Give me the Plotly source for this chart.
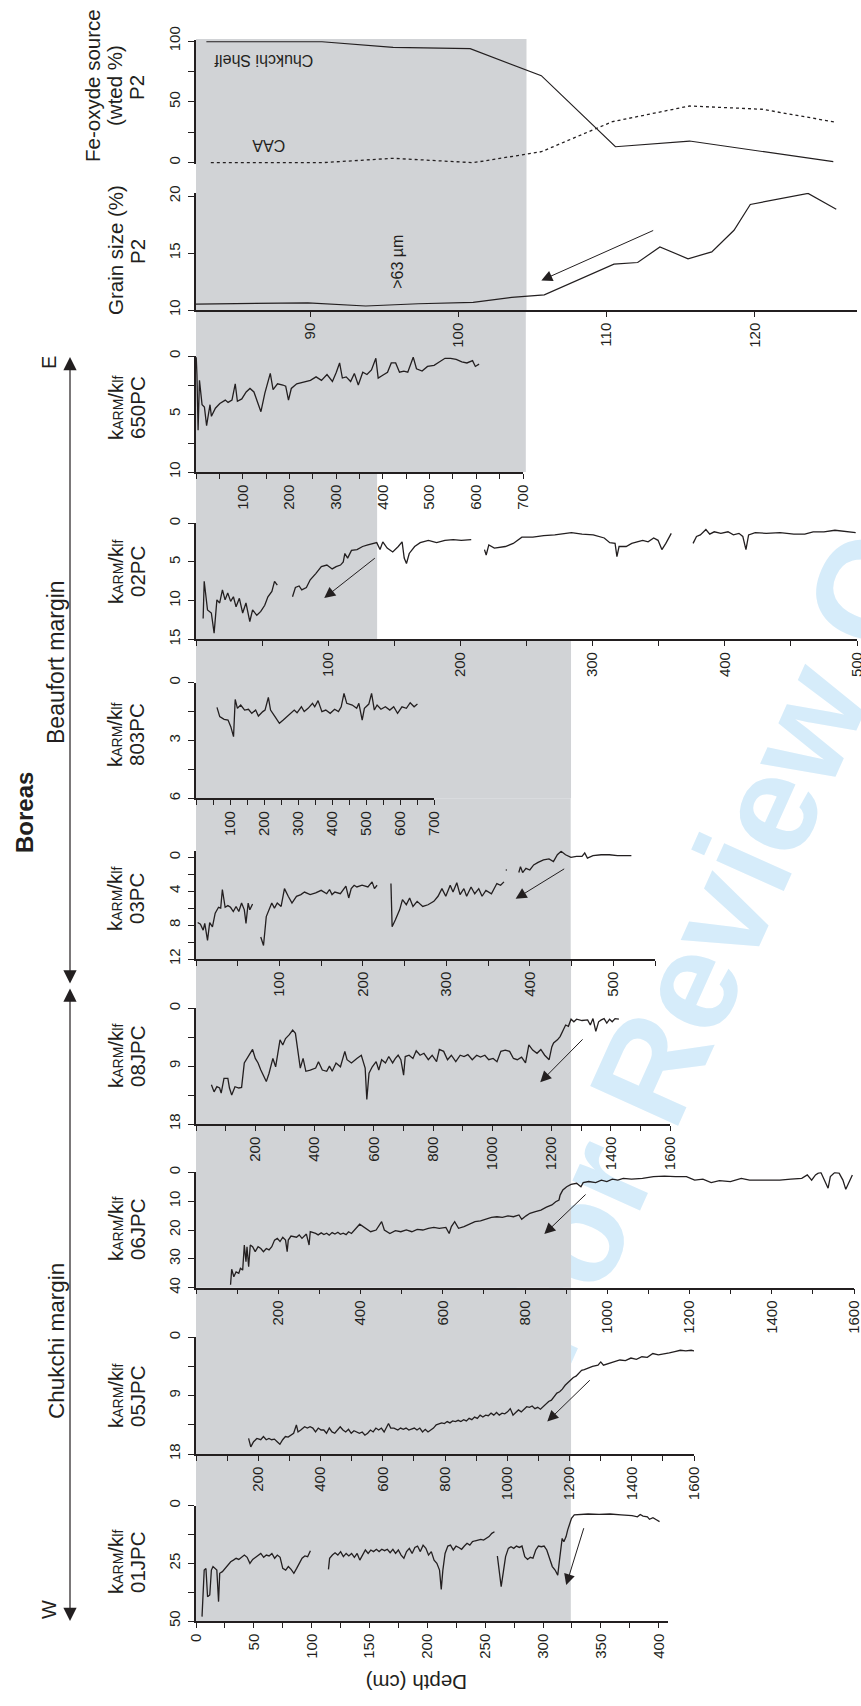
import plotly.graph_objects as go

# ====================== DATA ======================
# Core P2 : Fe-oxyde source (weighted %)
p2_fe_depth = [83.0, 90.8, 95.6, 100.8, 105.6, 110.6, 115.6, 119.7, 125.3]
p2_fe_chukchi_shelf = [99.4, 99.4, 94.8, 93.7, 71.5, 13.1, 17.8, 10.4, 0.8]
p2_caa_depth = [83.3, 90.8, 95.6, 101.0, 105.6, 110.4, 115.6, 120.5, 125.5]
p2_fe_caa = [0.0, 0.0, 3.6, 0.0, 9.0, 33.7, 46.6, 43.9, 33.2]

# Core P2 : grain size >63 um (%)
p2_gs_depth = [82.3, 89.85, 93.75, 97.3, 101.0, 103.6, 105.8, 110.5, 112.1, 113.6,
               115.5, 117.1, 118.6, 119.7, 123.6, 125.5]
p2_gs_sand = [10.52, 10.63, 10.35, 10.55, 10.67, 11.1, 11.33, 14.03, 14.17, 15.54,
              14.5, 15.1, 17.0, 19.27, 20.23, 18.84]

# kARM/klf records (depth cm, ratio); None = gap between sections
pc650_depth = [0.5, 2, 4.5, 7.4, 13, 18, 22.7, 30, 33, 41.5,
               51, 62.7, 68.6, 77, 84, 88.6, 98, 107.4, 115.6, 124,
               131, 139, 147.4, 159, 165, 174.5, 186, 192, 198, 204,
               215.6, 227.4, 245, 257, 268.6, 280.4, 292, 300.4, 307.4, 313.3,
               321.5, 331, 339, 347.4, 357, 366, 375.6, 385, 390, 398,
               410, 418, 427.4, 435.6, 445, 453.3, 465, 472, 484, 495.6,
               509.7, 521.5, 533, 545, 557, 569, 580, 592, 598, 606]
pc650_karm = [0.1, 1.6, 6.4, 2.1, 4.2, 4.4, 6.0, 4.2, 5.2, 4.5,
              4.1, 3.8, 4.0, 3.8, 2.4, 3.9, 3.7, 3.1, 2.8, 3.1,
              3.9, 4.8, 3.2, 1.5, 2.9, 2.4, 2.5, 2.6, 3.8, 2.8,
              2.4, 2.3, 2.1, 1.8, 2.1, 1.6, 2.2, 1.4, 0.6, 1.9,
              1.8, 2.2, 1.5, 2.5, 1.4, 1.6, 1.2, 0.2, 1.9, 1.7,
              1.4, 0.6, 0.6, 1.4, 1.3, 1.4, 0.1, 1.1, 1.3, 0.9,
              0.8, 0.5, 0.2, 0.2, 0.3, 0.5, 0.6, 0.4, 0.9, 0.7]

pc02_depth = [5.4, 6.2, 8.7, 11.6, 13.7, 15.8, 17.9, 20, 22, 24,
              26.2, 28.3, 30.3, 32.8, 35.3, 37.8, 40.7, 42.8, 46, 49,
              52, 54.4, 57.4, 59.4, 61.5, None,
              73, 75.2, 78, 80, 83.5, 86.4, 90.6, 94.8, 99, 103,
              106, 109.3, 111.4, 112.6, 114.7, 117.6, 121.8, 126, 130, 134,
              136.7, 139.2, 141.3, 144.6, 148.8, 153, 155.9, 157.5, 159.2, 161.3,
              165.4, 169.6, 175.8, 182, 188.3, 194.5, 200.7, 208.2, None,
              218.2, 219.5, 221.5, 225.7, 234, 240, 246.5, 254.8, 263, 271.4,
              284, 292, 300.5, 308.8, 313, 317, 318.4, 320, 325.4, 329.6,
              333.7, 337.9, 342, 346.2, 349.5, 352.4, 355.4, 359.5, None,
              376, 378.6, 381.5, 385.7, 388.6, 392, 397, 402.4, 406.5, 410.7,
              413.6, 416, 418, 423, 431.4, 441.8, 452.2, 460.5, 466.8, 475,
              483.3, 493.7, 499]
pc02_karm = [12.3, 7.5, 11.2, 11.6, 14.2, 9.9, 10.3, 8.6, 9.9, 9.0,
             10.1, 9.5, 10.8, 9.7, 11.6, 10.3, 12.7, 11.2, 11.9, 11.4,
             10.6, 9.5, 8.8, 7.5, 8.0, None,
             9.5, 8.3, 8.1, 8.6, 8.3, 7.3, 6.5, 5.6, 5.4, 5.9,
             5.6, 5.4, 5.0, 3.9, 4.5, 3.5, 3.4, 3.0, 2.8, 2.6,
             2.5, 3.4, 2.4, 3.2, 3.7, 3.0, 2.4, 4.5, 5.2, 3.9,
             3.0, 2.5, 2.2, 2.5, 2.2, 2.1, 2.2, 2.1, None,
             3.4, 4.1, 2.8, 3.2, 3.0, 2.6, 1.8, 1.8, 1.6, 1.5,
             1.2, 1.4, 1.5, 1.9, 2.5, 2.6, 4.3, 3.0, 3.0, 2.6,
             2.4, 2.2, 2.4, 1.9, 2.2, 3.4, 2.6, 1.3, None,
             2.6, 1.7, 1.5, 0.8, 1.4, 1.1, 1.3, 1.1, 1.5, 1.3,
             1.7, 3.4, 1.5, 1.2, 1.3, 1.2, 1.4, 1.4, 1.1, 1.1,
             0.9, 1.1, 1.2]

pc803_depth = [61.7, 69.8, 82.8, 94.2, 102.3, 110.4, 115.3, 121.8, 131.6, 143,
               154.3, 164, 175.4, 183.5, 196.5, 203, 212.8, 219.3, 232.3, 245.3,
               256.6, 268, 281, 289, 297.2, 310, 318.3, 329.7, 342.7, 349.2,
               359, 370.3, 381.7, 394.7, 407.7, 419, 427, 435.3, 443.4, 459.6,
               472.6, 479, 488.8, 495.3, 508.3, 516.4, 524.5, 532.6, 544, 557,
               570, 581.4, 592.8, 605.8, 618.8, 630, 641.5, 651.3]
pc803_karm = [1.28, 1.76, 1.9, 1.94, 2.28, 2.8, 0.87, 1.33, 1.16, 1.42,
              1.38, 1.59, 1.42, 1.73, 1.5, 1.42, 0.76, 1.42, 1.76, 2.11,
              1.94, 1.76, 1.59, 1.42, 1.56, 1.25, 1.5, 1.33, 1.07, 1.25,
              0.93, 1.5, 1.42, 1.59, 1.38, 1.5, 1.25, 0.55, 1.07, 1.16,
              1.33, 1.07, 1.94, 1.33, 1.11, 0.55, 1.42, 1.16, 1.38, 1.25,
              1.42, 1.25, 1.59, 1.25, 1.33, 1.04, 1.25, 1.11]

pc03_depth = [2, 5.3, 8.6, 10.5, 13.8, 16.4, 19.7, 23, 27, 29.6,
              31.6, 34.9, 38.2, 41.4, 44.7, 48, 51.3, 54.6, 57.9, 59.9,
              62.5, 64.5, 67.8, None,
              77.6, 80.9, 84.2, 87.5, 90.8, 94, 97.4, 102, 106, 110.5,
              115, 120.4, 125.7, 130, 136.8, 143.4, 150, 156.6, 160, 163,
              166.4, 173, 179.6, 183, 186, 189.5, 192.8, 199, 206, 211,
              213.8, 217, None,
              233.6, 235, 238.8, 244, 247.4, 252, 256, 260, 265, 271.7,
              278, 285, 290, 294.7, 299.3, 304.6, 308, 312.5, 316.4, 321,
              324.3, 329.6, 334, 338.8, 342.8, 347.4, 354, 360.5, 365, 369, None,
              371.2, 372.4, None,
              386.8, 388.8, 391.4, 395.4, 400, 404.6, 409.9, 416.4, 423, 428.3,
              433, 437.5, 442.8, 449.3, 455.9, 462.5, 465.8, 469, 475.7, 485.5,
              495.4, 505, 515, 521.7]
pc03_karm = [7.7, 7.9, 8.6, 7.8, 9.8, 7.7, 8.2, 6.6, 5.9, 6.0,
             3.8, 5.9, 5.7, 5.9, 6.4, 5.8, 6.4, 5.4, 6.2, 7.8,
             5.4, 6.2, 5.5, None,
             9.4, 10.4, 7.0, 6.2, 5.4, 6.0, 5.4, 5.8, 3.7, 4.6,
             5.4, 4.6, 4.4, 4.1, 4.4, 4.2, 3.9, 4.3, 3.8, 4.4,
             4.1, 4.3, 3.4, 4.8, 3.7, 3.3, 3.5, 3.3, 3.5, 2.9,
             3.7, 3.3, None,
             3.1, 8.2, 7.4, 6.2, 5.0, 5.6, 4.8, 5.8, 5.2, 5.8,
             5.6, 5.2, 4.6, 3.7, 4.6, 3.3, 4.1, 3.0, 4.4, 3.7,
             4.6, 3.5, 4.3, 3.7, 4.6, 3.9, 4.3, 3.1, 3.3, 2.9, None,
             1.5, 1.5, None,
             1.8, 1.1, 1.8, 1.3, 1.5, 0.9, 0.6, 0.3, 0.2, 0.5,
             -0.3, -0.7, -0.3, 0.0, -0.1, -0.1, -0.5, 0.1, -0.2, -0.3,
             -0.3, -0.2, -0.2, -0.2]

jpc08_depth = [52, 61, 70.5, 79.7, 85, 94.5, 107.5, 113, 120.5, 131.6,
               144.6, 153.9, 163, 172.4, 181.7, 191, 200.2, 209.5, 218.8, 228,
               237.3, 246.6, 259.5, 268.8, 283.6, 292.9, 302.2, 315, 326.3, 335.6,
               344.8, 352, 361.5, 370.8, 385.6, 404, 413.4, 426.4, 441.2, 450.5,
               459.8, 472.7, 487.6, 502.4, 509.8, 524.7, 543, 558, 571, 576.6,
               584, 595, 608, 617, 626.6, 639.6, 650.7, 663.7, 673, 682.3,
               691.5, 700.8, 706.3, 719.3, 732.3, 743.4, 756.4, 769.4, 784.2, 797.2,
               812, 821.3, 836, 849, 862, 876.9, 891.8, 904.7, 917.7, 932.5,
               947.4, 960.3, 975, 988, 1003, 1016, 1029, 1044, 1058.6, 1071.6,
               1084.5, 1099, 1112.3, 1123.5, 1136.5, 1151, 1164, 1177, 1192, 1201,
               1207, 1220, 1229, 1238, 1247.7, 1257, 1266, 1275.5, 1284.7, 1303,
               1322, 1331, 1340, 1349.6, 1359, 1368, 1377.5, 1386.7, 1396, 1405,
               1414.5, 1427.5]
jpc08_karm = [11.9, 13.0, 12.2, 12.4, 13.2, 10.9, 10.9, 12.4, 13.5, 12.2,
              12.4, 12.3, 8.5, 7.8, 7.1, 6.4, 7.8, 8.5, 9.6, 10.4,
              11.4, 10.1, 7.8, 9.1, 4.9, 5.7, 4.7, 4.1, 3.4, 3.9,
              7.0, 9.3, 7.8, 9.8, 9.6, 9.3, 8.3, 9.6, 9.8, 9.0,
              9.8, 8.5, 9.1, 6.7, 8.0, 8.5, 7.8, 7.3, 9.3, 14.2,
              10.1, 9.1, 8.3, 9.6, 8.0, 8.5, 7.5, 8.5, 7.8, 7.3,
              8.0, 10.4, 7.5, 7.3, 7.8, 6.6, 7.3, 7.0, 8.0, 7.3,
              8.3, 6.4, 6.7, 8.0, 7.3, 8.3, 7.3, 7.5, 7.2, 8.0,
              7.3, 7.6, 7.3, 8.0, 7.8, 8.3, 6.7, 6.5, 6.7, 7.8,
              8.0, 7.6, 8.5, 5.7, 6.5, 7.0, 6.4, 7.3, 8.0, 6.0,
              5.4, 4.9, 4.4, 3.6, 2.6, 2.8, 1.7, 2.1, 1.7, 1.9,
              1.8, 2.6, 1.6, 3.6, 2.1, 1.8, 1.6, 2.3, 1.7, 2.1,
              1.6, 1.7]

jpc06_depth = [84, 86.8, 92, 97.5, 104, 108, 113.5, 117.5, 121.5, 124,
               128, 132, 137.6, 144, 151, 157.6, 164, 171, 177.6, 184.3,
               191, 197.6, 204.3, 211, 217.7, 221.7, 224.4, 231, 244.4, 251,
               257.7, 268.4, 275, 277.8, 291, 297, 304.5, 311, 317.8, 324,
               331, 337.9, 345, 351, 358, 365, 371, 378, 398, 411.3,
               424.7, 438, 451.4, 458, 471.4, 484.8, 498, 511.5, 524.8, 538,
               551.6, 565, 578.3, 591.6, 607.6, 615.6, 621, 629, 638.4, 651.7,
               665, 678.4, 691.8, 705, 718.5, 731.8, 745, 758.5, 772, 785.3,
               792, 802.6, 812, 825.3, 838.7, 852, 865.4, 874.7, 882.7, 885.4,
               892, 901.4, 912, 925.5, 936, 941.5, 954.8, 972, 985.6, 999,
               1012.3, 1025.6, 1039, 1059, 1085.7, 1112.4, 1139, 1165.9, 1192.6, 1212.6,
               1232.6, 1252.7, 1272.7, 1299.4, 1326, 1346, 1372.9, 1392.9, 1419.6, 1446.3,
               1473, 1486.4, 1497, 1506.4, 1513, 1519.6, 1526.4, 1537, 1542.5, 1553,
               1563.8, 1573, 1580, 1586.5, 1596]
jpc06_karm = [39, 33.6, 36.2, 34.5, 35, 33.3, 33.9, 25.2, 31, 25.8,
              32.7, 25.2, 25.8, 27.5, 25.8, 26.4, 27.5, 26.4, 26.9, 25.8,
              23.5, 22.9, 24, 22.5, 23.5, 27.5, 23.5, 22.1, 22.5, 21.7,
              22.9, 21.4, 25.2, 20.6, 21.2, 21.7, 21.0, 21.6, 21.1, 21.8,
              20.9, 21.4, 20.8, 21.5, 21.1, 21.6, 20.6, 21.2, 18, 19.4,
              20.6, 20, 17.1, 20, 21.2, 20.2, 20.6, 20, 20.6, 19.8,
              20, 19.4, 19.1, 19.4, 19.1, 21.2, 18.8, 17.1, 19.4, 18.8,
              17.9, 17.1, 16.8, 16.3, 15.6, 15.4, 15.6, 15.1, 15.4, 14.8,
              16.3, 15.1, 14.2, 13.6, 13.1, 12.1, 11.3, 10.2, 9.6, 7.9,
              6.1, 5, 4.2, 3.8, 5, 3.6, 3.2, 3.6, 2.7, 3.2,
              2.4, 2.7, 2.1, 2.4, 2.1, 1.5, 1.3, 1.5, 1.5, 2.7,
              2.4, 3.6, 2.9, 3.2, 2.1, 2.7, 2.7, 2.9, 2.7, 2.4,
              2.1, 0.9, 2.7, 0.9, 0.3, 0.1, 2.1, 5.5, 1.5, 0.1,
              0.3, 2.7, 5.9, 3.8, 0.9]

jpc05_depth = [169, 176, 185, 195.6, 208, 216.7, 225.6, 234.4, 243, 252,
               260.8, 269.6, 278.4, 287.2, 296, 304.8, 313.7, 322.5, 327.8, 336.6,
               349, 357.7, 366.5, 375.3, 384, 393, 401.8, 410.6, 419.4, 428.2,
               437, 445.8, 454.6, 463.4, 472.2, 481, 490, 498.7, 507.5, 516.3,
               525, 534, 542.7, 551.5, 560.4, 569.2, 578, 586.8, 595.6, 604.4,
               618.5, 625.6, 636, 648.5, 657.3, 666, 674.9, 683.7, 692.5, 701.3,
               710, 719, 727.8, 736.6, 745.4, 754.2, 763, 771.8, 780.6, 789.4,
               798.2, 807, 815.9, 824.7, 833.5, 842.3, 851, 860, 868.7, 877.5,
               886.3, 895, 904, 912.8, 921.6, 930.4, 939.2, 948, 956.8, 965.6,
               974.4, 983.3, 992, 1000.9, 1009.7, 1018.5, 1027.3, 1036, 1045, 1053.7,
               1062.5, 1071.4, 1080, 1089, 1097.8, 1106.6, 1115.4, 1124.2, 1133, 1141.9,
               1150.7, 1159.5, 1168.3, 1177, 1186, 1194.7, 1203.5, 1212.3, 1221, 1230,
               1238.8, 1247.6, 1256.4, 1274, 1291.6, 1300.4, 1309, 1326.9, 1344.5, 1362,
               1379.7, 1397.4, 1415, 1432.6, 1450, 1467.8, 1485.5, 1503, 1520.7, 1538.3,
               1556, 1573.6, 1591, 1600]
jpc05_karm = [15.6, 16.9, 16.1, 15.6, 15.8, 15.3, 15.8, 15.6, 15.8, 15.7,
              16.1, 16.5, 15.8, 15.3, 15.4, 15.1, 14.8, 13.5, 14.6, 14.3,
              13.8, 14, 13.8, 14, 14.6, 14, 14.3, 14.3, 14.8, 14,
              14.6, 14.8, 14.3, 13.8, 14.3, 14.6, 14.2, 14.8, 14.4, 14.6,
              14.8, 14.6, 15.1, 14.8, 14.3, 14.6, 14, 14.3, 14, 14.6,
              13.3, 14, 14, 14.3, 14, 14.2, 14, 14.3, 14.2, 14,
              14.3, 14, 14.6, 14.2, 14.6, 14.3, 14, 13.5, 13.3, 13.2,
              13.3, 13, 13.2, 12.9, 13, 12.8, 13, 12.7, 12.9, 12.5,
              12.7, 12.3, 12.5, 12, 12.3, 12, 12.1, 11.7, 12, 11.6,
              12, 11.7, 11.8, 11.5, 11, 12, 11.6, 11.2, 11.5, 11.1,
              10.7, 10.8, 10.6, 11, 10.8, 11.1, 10.7, 10.4, 9.9, 9.7,
              9.2, 8.6, 8.4, 8, 7.4, 7, 6.6, 6.2, 6, 5.6,
              5.1, 5, 4.8, 4.5, 4.3, 3.8, 4.3, 4, 3.8, 3.5,
              3.6, 3.2, 3.4, 3, 3.1, 2.5, 2.7, 2.6, 2.4, 2.2,
              2, 2.1, 2, 2.1]

jpc01_depth = [5.2, 7.1, 8.6, 10, 11.9, 13.3, 14.7, 16.6, 18, 19.5,
               20.5, 22.8, 25.2, 27.6, 30, 32.3, 34.7, 37, 39.5, 41.8,
               44.2, 46.6, 49, 51.3, 53.7, 56, 58.5, 60.8, 63.2, 65.6,
               68, 70.3, 72.7, 75, 77.5, 79.8, 82.2, 84.6, 87, 89.4,
               91.7, 94.1, 96.5, 98.9, None,
               114.5, 115.5, 117.9, 120.2, 122.6, 125, 127.4, 129.8, 132.1, 134.5,
               136.9, 139.3, 141.6, 144, 146.4, 148.8, 151.1, 153.5, 155.9, 158.3,
               160.6, 163, 165.4, 167.8, 170.2, 172.5, 174.9, 177.3, 179.7, 182,
               184.4, 186.8, 189.2, 191.5, 193.9, 196.3, 198.7, 201, 203.4, 205.8,
               208.2, 210.5, 212, 213.4, 215.3, 217.7, 220, 222.4, 224.8, 227.2,
               229.6, 232, 234.3, 236.7, 239, 241.4, 243.8, 246.2, 248.6, 251,
               253.3, 255.7, 258, None,
               260.5, 262, 263.8, 265.7, 267.6, 270, 272.3, 274.7, 277, 279.5,
               281.8, 284.2, 286.6, 289, 291.3, 293.7, 296, 298.5, 300.9, 303.2,
               305.6, 308, 310.4, 312.7, 314.2, 315.1, 316.5, 318, 319.9, 321.3,
               323.2, 324.6, 327, 331.7, 338.9, 348.4, 357.9, 367.4, 376.9, 381.6,
               384, 386.4, 390.2, 392, 395, 398.3, 400.7]
jpc01_karm = [48.1, 27.9, 27.2, 39.5, 38.7, 27.9, 26.4, 27.2, 27.9, 41.6,
              29.3, 28.6, 27.2, 25.7, 24.3, 23.6, 22.8, 23.3, 22.4, 21.4,
              22.4, 25, 23.3, 22.4, 21.4, 20.7, 22.4, 21.4, 21.8, 20.7,
              22.8, 21.4, 22.4, 27.2, 27.9, 26.4, 27.6, 29.3, 27.2, 25,
              22.8, 21.8, 22.1, 19.5, None,
              27.6, 22.8, 21.4, 20.4, 21.4, 19.9, 22.1, 20.7, 21.8, 20.7,
              22.4, 20.7, 23.6, 21.4, 19.2, 20.7, 19.2, 19.9, 18.9, 19.9,
              18.9, 19.5, 18.9, 20.4, 18.9, 20.7, 19.2, 21.4, 22.8, 19.9,
              18.5, 20.7, 18.1, 17.5, 19.9, 17.1, 18.5, 21.4, 19.9, 23.6,
              25, 27.9, 36.3, 27.9, 20.7, 17.5, 17.1, 19.2, 17.5, 18.1,
              18.9, 17.5, 16.3, 17.1, 15.6, 15.2, 14.9, 14.6, 14.9, 14.2,
              13.4, 12, 11.3, None,
              21.8, 29.3, 35.1, 28.6, 22.1, 18.5, 17.8, 18.5, 17.5, 18.1,
              17.5, 22.1, 23.3, 22.4, 22.8, 19.2, 17.5, 17.8, 17.5, 19.2,
              23.3, 26.4, 27.9, 30.1, 23.6, 19.2, 14.2, 15.6, 13.4, 10.5,
              7.7, 5.5, 4, 3.8, 3.6, 3.8, 3.6, 4, 4.3, 4.8,
              3.8, 4.5, 4.8, 5.9, 5.2, 6.2, 6.9]

core_names = ['650PC', '02PC', '803PC', '03PC', '08JPC', '06JPC', '05JPC', '01JPC']

# shading boundary (depth units of each panel), P2 first then cores
shade_depth = [104.6, 706, 137, 1103, 449, 1266, 912, 1205, 324]

# arrows: (tail depth, tail value, head depth, head value)
arrow_gs = (113.25, 17.04, 105.6, 12.6)
arrow_cores = {
    '02PC': (136.4, 4.36, 97, 9.66),
    '03PC': (443, 1.26, 383, 4.9),
    '08JPC': (1310, 4.6, 1162, 11.5),
    '06JPC': (951, 7.2, 847, 21.4),
    '05JPC': (1270, 6.4, 1128.6, 13.0),
    '01JPC': (335.6, 9.1, 320, 34.4),
}

# axis ranges and ticks
x_range = {'fe': [82.3, 126.9], 'gs': [82.3, 126.9], '650PC': [0, 700], '02PC': [0, 500],
           '803PC': [0, 700], '03PC': [0, 550], '08JPC': [0, 1600], '06JPC': [0, 1600],
           '05JPC': [0, 1600], '01JPC': [0, 408]}
y_range = {'fe': [-1, 101], 'gs': [10, 20.3], '650PC': [10, 0], '02PC': [15, 0],
           '803PC': [6, 0], '03PC': [12, -0.8], '08JPC': [18, 0], '06JPC': [40, 0],
           '05JPC': [18, 0], '01JPC': [50, 0]}
x_ticks = {'gs': [90, 100, 110, 120],
           '650PC': [100, 200, 300, 400, 500, 600, 700],
           '02PC': [100, 200, 300, 400, 500],
           '803PC': [100, 200, 300, 400, 500, 600, 700],
           '03PC': [100, 200, 300, 400, 500],
           '08JPC': [200, 400, 600, 800, 1000, 1200, 1400, 1600],
           '06JPC': [200, 400, 600, 800, 1000, 1200, 1400, 1600],
           '05JPC': [200, 400, 600, 800, 1000, 1200, 1400, 1600],
           '01JPC': [0, 50, 100, 150, 200, 250, 300, 350, 400]}
x_minor = {'650PC': 50, '02PC': 50, '803PC': 50, '03PC': 50, '08JPC': 100,
           '06JPC': 100, '05JPC': 100, '01JPC': 25}
y_ticks = {'fe': [0, 50, 100], 'gs': [10, 15, 20], '650PC': [0, 5, 10], '02PC': [0, 5, 10, 15],
           '803PC': [0, 3, 6], '03PC': [0, 4, 8, 12], '08JPC': [0, 9, 18],
           '06JPC': [0, 10, 20, 30, 40], '05JPC': [0, 9, 18], '01JPC': [0, 25, 50]}
y_minor = {'fe': 25, '650PC': 2.5, '803PC': 1.5, '03PC': 2, '08JPC': 4.5, '05JPC': 4.5,
           '01JPC': 12.5}

# ====================== LAYOUT GEOMETRY ======================
W, H = 861, 1706
INK = '#231f20'
GRAY = 'rgb(209,211,214)'
FONT = 'Liberation Sans, Arial, Helvetica, sans-serif'


def px_x(p):
    return p / W


def px_y(p):
    return 1 - p / H


# pixel boxes: x0, x1, ytop, ybottom
BOX = {
    'fe': (196, 857, 39.8, 163.9),
    'gs': (196, 857, 192.7, 310.0),
    '650PC': (196, 523, 356.0, 472.0),
    '02PC': (196, 857, 523.3, 639.3),
    '803PC': (196, 434, 682.7, 798.3),
    '03PC': (196, 655, 850.5, 959.0),
    '08JPC': (196, 670, 1008.3, 1124.0),
    '06JPC': (196, 854, 1172.3, 1287.7),
    '05JPC': (196, 694, 1337.3, 1454.0),
    '01JPC': (196, 668, 1505.7, 1621.0),
}
keys = ['fe', 'gs'] + core_names
axn = {k: i + 1 for i, k in enumerate(keys)}


def aid(k, a):
    n = axn[k]
    return a if n == 1 else f'{a}{n}'


def lname(k, a):
    n = axn[k]
    return f'{a}axis' if n == 1 else f'{a}axis{n}'


fig = go.Figure()

fig.add_trace(go.Scatter(x=p2_fe_depth, y=p2_fe_chukchi_shelf, mode='lines',
                         line=dict(color=INK, width=1.2), xaxis='x', yaxis='y'))
fig.add_trace(go.Scatter(x=p2_caa_depth, y=p2_fe_caa, mode='lines',
                         line=dict(color=INK, width=1.3, dash='dot'), xaxis='x', yaxis='y'))
fig.add_trace(go.Scatter(x=p2_gs_depth, y=p2_gs_sand, mode='lines',
                         line=dict(color=INK, width=1.2), xaxis='x2', yaxis='y2'))

core_data = {
    '650PC': (pc650_depth, pc650_karm), '02PC': (pc02_depth, pc02_karm),
    '803PC': (pc803_depth, pc803_karm), '03PC': (pc03_depth, pc03_karm),
    '08JPC': (jpc08_depth, jpc08_karm), '06JPC': (jpc06_depth, jpc06_karm),
    '05JPC': (jpc05_depth, jpc05_karm), '01JPC': (jpc01_depth, jpc01_karm),
}
for k in core_names:
    d, v = core_data[k]
    fig.add_trace(go.Scatter(x=d, y=v, mode='lines', line=dict(color=INK, width=1.3),
                             connectgaps=False, xaxis=aid(k, 'x'), yaxis=aid(k, 'y')))

fig.update_traces(showlegend=False, hoverinfo='skip')

tickfont = dict(family=FONT, size=15, color=INK)
layout = {}
for k in keys:
    x0, x1, yt, yb = BOX[k]
    xa = dict(domain=[px_x(x0), px_x(x1)], range=x_range[k], anchor=aid(k, 'y'),
              showgrid=False, zeroline=False, automargin=False, fixedrange=True)
    if k == 'fe':
        xa['visible'] = False
    else:
        xa.update(showline=True, linecolor=INK, linewidth=1.5, ticks='outside', ticklen=5,
                  tickwidth=1, tickcolor=INK, tickmode='array', tickvals=x_ticks[k],
                  ticktext=[str(t) for t in x_ticks[k]], tickangle=-90, tickfont=tickfont,
                  ticklabeloverflow='allow')
        if k in x_minor:
            xa['minor'] = dict(ticks='outside', tickmode='linear', tick0=0, dtick=x_minor[k],
                               ticklen=5, tickwidth=1, tickcolor=INK, showgrid=False)
    ya = dict(domain=[px_y(yb), px_y(yt)], range=y_range[k], anchor=aid(k, 'x'),
              showgrid=False, zeroline=False, automargin=False, fixedrange=True,
              showline=True, linecolor=INK, linewidth=1.5, ticks='outside', ticklen=6,
              tickwidth=1, tickcolor=INK, tickmode='array', tickvals=y_ticks[k],
              ticktext=[str(t) for t in y_ticks[k]], tickangle=-90, tickfont=tickfont,
              ticklabelstandoff=2, ticklabeloverflow='allow')
    if k in y_minor:
        ya['minor'] = dict(ticks='outside', tickmode='linear', tick0=0, dtick=y_minor[k],
                           ticklen=6, tickwidth=1, tickcolor=INK, showgrid=False)
    layout[lname(k, 'x')] = xa
    layout[lname(k, 'y')] = ya

# ---------- shapes: watermark (below) then gray shading ----------
shapes = []
shapes.append(dict(type='line', xref='paper', yref='paper', layer='below',
                   x0=px_x(694), y0=px_y(941), x1=px_x(776), y1=px_y(759),
                   line=dict(color='rgba(0,0,0,0)', width=1),
                   label=dict(text='<b>For Review Only</b>', textposition='middle',
                              xanchor='center', yanchor='middle',
                              font=dict(family=FONT, size=140, color='rgb(214,236,250)'))))
shade_keys = ['gs'] + core_names
for i, k in enumerate(shade_keys):
    x0, x1, yt, yb = BOX[k]
    r0, r1 = x_range[k]
    xb = x0 + (shade_depth[i] - r0) / (r1 - r0) * (x1 - x0)
    top = 39 if i == 0 else BOX[shade_keys[i - 1]][3]
    shapes.append(dict(type='rect', xref='paper', yref='paper', layer='below',
                       x0=px_x(x0), x1=px_x(xb), y0=px_y(yb), y1=px_y(top),
                       fillcolor=GRAY, line=dict(width=0)))

# ---------- annotations ----------
ann = []


def txt(t, x, y, size=20.5, angle=-90, bold=False):
    ann.append(dict(text=(f'<b>{t}</b>' if bold else t), x=px_x(x), y=px_y(y), xref='paper',
                    yref='paper', showarrow=False, textangle=angle, xanchor='center',
                    yanchor='middle', font=dict(family=FONT, size=size, color=INK)))


txt('Fe-oxyde source', 93, 86)
txt('(wted %)', 115, 86)
txt('P2', 137, 88)
txt('Grain size (%)', 115, 250)
txt('P2', 137, 252)
klabel = "k<span style='font-size:14px'>ARM</span>/k<span style='font-size:14px'>lf</span>"
label_y = {'650PC': 408, '02PC': 572, '803PC': 735, '03PC': 899, '08JPC': 1056,
           '06JPC': 1229, '05JPC': 1396, '01JPC': 1562}
for k in core_names:
    txt(klabel, 115, label_y[k])
    txt(k, 137, label_y[k])

# in-panel labels
ann.append(dict(text='Chukchi Shelf', x=86.9, y=84.4, xref='x', yref='y', showarrow=False,
                textangle=180, font=dict(family=FONT, size=16, color=INK)))
ann.append(dict(text='CAA', x=87.2, y=13.7, xref='x', yref='y', showarrow=False,
                textangle=180, font=dict(family=FONT, size=16, color=INK)))
ann.append(dict(text='>63 µm', x=95.9, y=14.2, xref='x2', yref='y2', showarrow=False,
                textangle=-90, font=dict(family=FONT, size=16, color=INK)))


def data_arrow(k, a):
    td, tv, hd, hv = a
    ann.append(dict(text='', x=hd, y=hv, ax=td, ay=tv, xref=aid(k, 'x'), yref=aid(k, 'y'),
                    axref=aid(k, 'x'), ayref=aid(k, 'y'), showarrow=True, arrowhead=2,
                    arrowsize=2.2, arrowwidth=1, arrowcolor=INK))


data_arrow('gs', arrow_gs)
for k, a in arrow_cores.items():
    data_arrow(k, a)

# left side: region labels and arrows
txt('Boreas', 24, 813, size=24, bold=True)
txt('Beaufort margin', 56, 662, size=23)
txt('Chukchi margin', 56, 1341, size=22.5)
txt('E', 49, 363, size=20)
txt('W', 49, 1610, size=20)
txt('Depth (cm)', 417, 1683, size=20.5, angle=180)

ann.append(dict(text='', x=px_x(70), y=px_y(357), xref='paper', yref='paper', showarrow=True,
                ax=0, ay=985 - 357, arrowside='end+start', arrowhead=2, startarrowhead=2,
                arrowsize=2.2, startarrowsize=2.2, arrowwidth=1.2, arrowcolor=INK))
ann.append(dict(text='', x=px_x(70), y=px_y(1621), xref='paper', yref='paper', showarrow=True,
                ax=0, ay=987 - 1621, arrowside='end+start', arrowhead=2, startarrowhead=2,
                arrowsize=2.2, startarrowsize=2.2, arrowwidth=1.2, arrowcolor=INK))

fig.update_layout(
    width=W, height=H, margin=dict(l=0, r=0, t=0, b=0, pad=0),
    paper_bgcolor='white', plot_bgcolor='rgba(0,0,0,0)',
    template='none', showlegend=False,
    font=dict(family=FONT, color=INK),
    shapes=shapes, annotations=ann, **layout)

fig.write_html('out.html')
